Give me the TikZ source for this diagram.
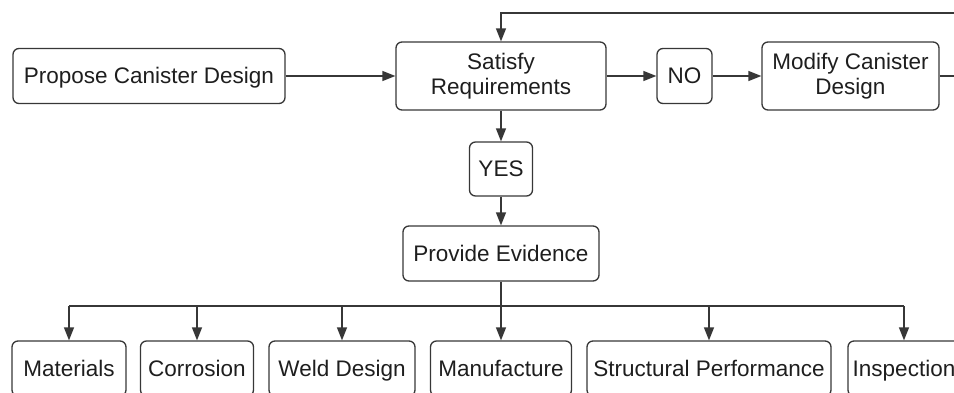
\documentclass[tikz,border=0pt]{standalone}
\usepackage{fontspec}
\setmainfont{Liberation Sans}
\usetikzlibrary{arrows.meta}
\definecolor{lineC}{RGB}{55, 55, 55}
\definecolor{textC}{RGB}{30, 30, 30}

\begin{document}
\begin{tikzpicture}[x=1pt, y=-1pt, >={Triangle[length=13pt, width=10pt]},
  font=\fontsize{22.5}{25}\selectfont, text=textC,
  stepbox/.style={draw=lineC, line width=1.3pt, rounded corners=6pt,
    minimum height=55pt, inner xsep=4pt, text height=20pt, text depth=4.5pt,
    align=center},
  flow/.style={->, draw=lineC, line width=1.4pt}]
  \useasboundingbox (0, 0) rectangle (954, 392);
  \clip (0, 0) rectangle (954, 392);

  % top row
  \node[stepbox, minimum width=272pt] (prop) at (149, 76) {Propose Canister Design};
  \node[stepbox, minimum width=210pt, minimum height=68pt, text height=, text depth=] (sat) at (501, 76) {Satisfy\\Requirements};
  \node[stepbox, minimum width=55pt] (no) at (684.5, 76) {NO};
  \node[stepbox, minimum width=177pt, minimum height=68pt, text height=, text depth=] (mod) at (850.5, 76) {Modify Canister\\Design};

  \node[stepbox, minimum width=63pt, minimum height=54pt] (yes) at (501, 169) {YES};
  \node[stepbox, minimum width=196pt] (evid) at (501, 253.5) {Provide Evidence};

  % evidence areas
  \node[stepbox, minimum width=114pt] (mat) at (69, 368.5) {Materials};
  \node[stepbox, minimum width=113pt] (corr) at (197, 368.5) {Corrosion};
  \node[stepbox, minimum width=146pt] (weld) at (342, 368.5) {Weld Design};
  \node[stepbox, minimum width=141pt] (manu) at (501, 368.5) {Manufacture};
  \node[stepbox, minimum width=244pt] (struc) at (709, 368.5) {Structural Performance};
  \node[stepbox, minimum width=112pt] (insp) at (904, 368.5) {Inspection};

  \draw[flow] (prop) -- (sat);
  \draw[flow] (sat) -- (no);
  \draw[flow] (no) -- (mod);
  \draw[flow] (sat) -- (yes);
  \draw[flow] (yes) -- (evid);

  % loop back
  \coordinate (back) at (975, 13);
  \draw[flow] (mod.east) -| (back) -| (sat.north);

  % bus
  \coordinate (bus) at (501, 306);
  \draw[draw=lineC, line width=1.4pt] (evid.south) -- (bus);
  \draw[draw=lineC, line width=1.4pt] (mat.north |- bus) -- (insp.north |- bus);
  \foreach \b in {mat, corr, weld, manu, struc, insp}
    \draw[flow] (\b.north |- bus) -- (\b.north);
\end{tikzpicture}
\end{document}
